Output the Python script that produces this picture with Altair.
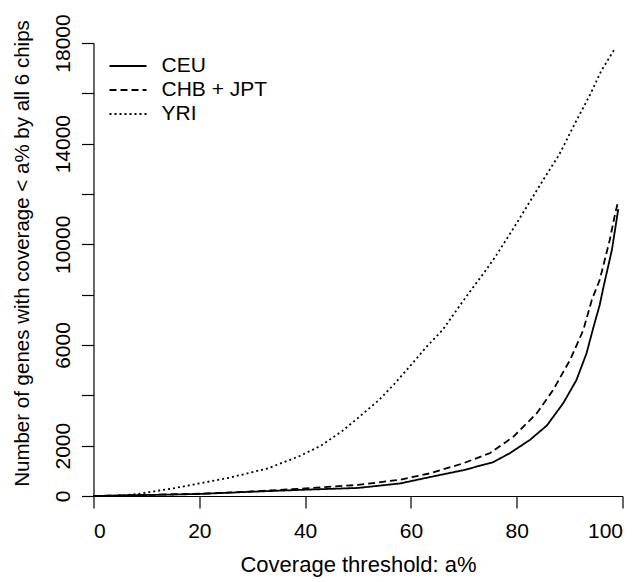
import altair as alt
import pandas as pd

FONT = "Liberation Sans"

groups = ["CEU", "CHB + JPT", "YRI"]

ceu_x = [0, 10, 20, 30, 40, 50, 58, 64, 70, 75.5, 78.7, 82.5, 85.7, 88.8, 91.3, 93.2, 94.5, 95.7, 96.4, 98, 98.9, 99.2]
ceu_y = [0, 40, 80, 170, 250, 320, 500, 770, 1030, 1340, 1700, 2230, 2800, 3690, 4610, 5670, 6700, 7600, 8300, 9780, 11000, 11400]

chb_x = [0, 10, 20, 30, 40, 50, 58, 63.6, 69.9, 74.9, 79.4, 83.8, 86.9, 90.1, 92.6, 94.2, 95.7, 97.6, 98.5, 99.2]
chb_y = [0, 40, 90, 180, 300, 440, 650, 900, 1300, 1700, 2360, 3290, 4220, 5410, 6600, 7790, 8590, 10180, 11110, 11740]

yri_x = [0, 5, 8, 15, 20, 26, 33, 39, 43, 47, 50, 54, 57, 60, 63, 66, 70, 74, 76, 80, 82.5, 85, 88, 91, 94, 96, 98.5]
yri_y = [0, 20, 70, 300, 500, 740, 1100, 1590, 2000, 2580, 3100, 3820, 4480, 5200, 5940, 6600, 7790, 8920, 9520, 10840, 11700, 12560, 13550, 14800, 16000, 16900, 17760]

x_ticks = [0, 20, 40, 60, 80, 100]
y_ticks = [0, 2000, 4000, 6000, 8000, 10000, 12000, 14000, 16000, 18000]
y_labels_shown = [0, 2000, 6000, 10000, 14000, 18000]

rows = []
for g, xs, ys in [("CEU", ceu_x, ceu_y), ("CHB + JPT", chb_x, chb_y), ("YRI", yri_x, yri_y)]:
    for i, (a, b) in enumerate(zip(xs, ys)):
        rows.append({"group": g, "a": a, "n": b, "order": i})
df = pd.DataFrame(rows)

label_test = " || ".join(f"datum.value == {v}" for v in y_labels_shown)

chart = alt.Chart(df).mark_line(color="black", strokeWidth=1.8).encode(
    x=alt.X("a:Q",
            scale=alt.Scale(domain=[0, 100], nice=False, zero=False),
            axis=alt.Axis(values=x_ticks, title="Coverage threshold: a%",
                          grid=False, tickSize=12, labelPadding=12,
                          titlePadding=13, titleFontSize=22, format="d")),
    y=alt.Y("n:Q",
            scale=alt.Scale(domain=[0, 18000], nice=False),
            axis=alt.Axis(values=y_ticks, title="Number of genes with coverage < a% by all 6 chips",
                          grid=False, tickSize=12, labelAngle=-90, labelAlign="center",
                          labelBaseline="bottom", labelPadding=8, titlePadding=20,
                          titleY=210, titleFontSize=20.5,
                          labelExpr=f"({label_test}) ? datum.value : ''",
                          labelOverlap=False)),
    strokeDash=alt.StrokeDash("group:N",
                              scale=alt.Scale(domain=groups, range=[[1, 0], [7, 4], [2, 3]]),
                              legend=alt.Legend(title=None, orient="none", legendX=15, legendY=11,
                                                symbolType="stroke", symbolSize=1369,
                                                symbolStrokeWidth=1.8, symbolStrokeColor="black",
                                                labelFontSize=21, labelFont=FONT,
                                                labelOffset=14, rowPadding=0, clipHeight=24)),
    order="order:Q",
).properties(
    width=529, height=453,
    padding={"left": 85.5, "top": 35, "right": 10, "bottom": 86},
    autosize="none",
).configure_view(stroke=None).configure_axis(
    domainColor="black", tickColor="black", labelColor="black", titleColor="black",
    labelFont=FONT, titleFont=FONT, labelFontSize=21, titleFontSize=21,
    titleFontWeight="normal", domainWidth=1.2, tickWidth=1.2,
)

chart.save("out.html", embed_options={"renderer": "svg", "actions": False})
